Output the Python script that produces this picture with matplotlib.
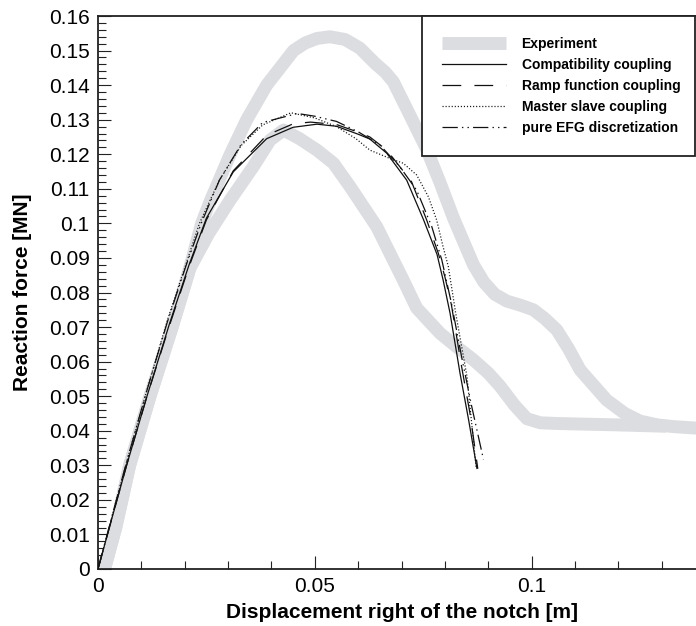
import numpy as np
import matplotlib
matplotlib.use("Agg")
import matplotlib.pyplot as plt

plt.rcParams['font.family'] = ['Liberation Sans', 'DejaVu Sans']
plt.rcParams['lines.scale_dashes'] = False

# experiment, two gray scatter bounds
exp_up_x = [0.0015, 0.0041, 0.0073, 0.0120, 0.0171, 0.0207, 0.0239, 0.0260, 0.0305, 0.0343,
            0.0389, 0.0451, 0.0478, 0.0505, 0.0535, 0.0570, 0.0604, 0.0640, 0.0662, 0.0681,
            0.0719, 0.0757, 0.0788, 0.0820, 0.0866, 0.0890, 0.0915, 0.0943, 0.0975, 0.1004,
            0.1030, 0.1058, 0.1085, 0.1112, 0.1173, 0.1215, 0.1250, 0.1290, 0.1327, 0.1400]
exp_up_y = [0.0, 0.012, 0.030, 0.050, 0.070, 0.085, 0.100, 0.1068, 0.120, 0.130,
            0.140, 0.150, 0.1522, 0.1535, 0.1540, 0.1532, 0.1507, 0.1462, 0.1438, 0.1410,
            0.1314, 0.1217, 0.1121, 0.1015, 0.0880, 0.0830, 0.0795, 0.0775, 0.0763, 0.0750,
            0.0725, 0.0692, 0.0638, 0.0576, 0.0489, 0.0450, 0.0428, 0.0417, 0.0412, 0.0406]

exp_lo_x = [0.0015, 0.0041, 0.0073, 0.0120, 0.0171, 0.0212, 0.0255, 0.0305, 0.0358, 0.0397,
            0.0428, 0.0465, 0.0505, 0.0543, 0.0581, 0.0643, 0.0681, 0.0704, 0.0735, 0.0789,
            0.0830, 0.0866, 0.0900, 0.0928, 0.0960, 0.0989, 0.1020, 0.1058, 0.1196, 0.1310]
exp_lo_y = [0.0, 0.012, 0.030, 0.050, 0.070, 0.087, 0.097, 0.1068, 0.1164, 0.1241,
            0.1270, 0.1245, 0.1212, 0.1174, 0.1107, 0.0990, 0.0894, 0.0836, 0.0755, 0.0682,
            0.0640, 0.0605, 0.0567, 0.0528, 0.0475, 0.0435, 0.0423, 0.0421, 0.0417, 0.0413]

# Compatibility coupling
comp_x = [0, 0.0035, 0.0066, 0.0113, 0.0165, 0.021, 0.025, 0.0312, 0.0389, 0.045, 0.0505,
          0.055, 0.060, 0.0627, 0.0666, 0.0712, 0.0751, 0.0782, 0.0796, 0.0812, 0.0835,
          0.0855, 0.0874]
comp_y = [0, 0.016, 0.030, 0.050, 0.071, 0.088, 0.1015, 0.1149, 0.1245, 0.1278, 0.1287,
          0.1281, 0.1258, 0.1244, 0.1203, 0.1125, 0.1010, 0.0910, 0.0836, 0.0740, 0.0566,
          0.0430, 0.0291]

# Ramp function coupling
ramp_x = [0, 0.0035, 0.0066, 0.0113, 0.0165, 0.021, 0.025, 0.0312, 0.0389, 0.045, 0.049,
          0.055, 0.060, 0.0627, 0.0666, 0.0723, 0.0758, 0.0785, 0.0800, 0.0815, 0.0838,
          0.0858, 0.0876]
ramp_y = [0, 0.016, 0.030, 0.050, 0.0705, 0.0875, 0.101, 0.1152, 0.1255, 0.1288, 0.1293,
          0.1286, 0.1264, 0.1250, 0.1212, 0.1121, 0.1010, 0.0913, 0.0846, 0.0765, 0.0590,
          0.0450, 0.0290]

# Master slave coupling
mast_x = [0, 0.0035, 0.0066, 0.011, 0.016, 0.0205, 0.0234, 0.028, 0.033, 0.038, 0.0445,
          0.050, 0.055, 0.0595, 0.0627, 0.0673, 0.0704, 0.0735, 0.0762, 0.0781, 0.0796,
          0.0808, 0.0825, 0.0851, 0.0872]
mast_y = [0, 0.0165, 0.031, 0.0505, 0.072, 0.089, 0.100, 0.1125, 0.1225, 0.1285, 0.1320,
          0.1305, 0.1280, 0.1245, 0.1212, 0.1188, 0.1174, 0.1140, 0.1077, 0.1010, 0.0932,
          0.0875, 0.0740, 0.0557, 0.0295]

# pure EFG discretization
efg_x = [0, 0.0035, 0.0066, 0.011, 0.016, 0.0205, 0.0238, 0.028, 0.033, 0.038, 0.046,
         0.050, 0.055, 0.060, 0.065, 0.0696, 0.0735, 0.0770, 0.0793, 0.0815, 0.0840,
         0.0862, 0.0889]
efg_y = [0, 0.0165, 0.031, 0.0505, 0.0715, 0.0885, 0.100, 0.1125, 0.1228, 0.1292, 0.1318,
         0.1310, 0.1295, 0.1265, 0.1227, 0.1164, 0.1096, 0.0990, 0.0894, 0.0770, 0.0605,
         0.0470, 0.0317]

x_major = [0, 0.05, 0.1]
x_labels = ['0', '0.05', '0.1']
y_major = [i / 100 for i in range(17)]
y_labels = ['0', '0.01', '0.02', '0.03', '0.04', '0.05', '0.06', '0.07', '0.08', '0.09',
            '0.1', '0.11', '0.12', '0.13', '0.14', '0.15', '0.16']

fig = plt.figure(figsize=(6.96, 6.26), dpi=100)
ax = fig.add_axes([98 / 696, 57 / 626, 607 / 696, 553 / 626])

gray = '#dcdde0'
ink = '#111111'
h_exp, = ax.plot(exp_up_x, exp_up_y, color=gray, lw=9.3, solid_capstyle='butt',
                 solid_joinstyle='round', zorder=2)
ax.plot(exp_lo_x, exp_lo_y, color=gray, lw=9.3, solid_capstyle='butt',
        solid_joinstyle='round', zorder=2)
h_comp, = ax.plot(comp_x, comp_y, color=ink, lw=0.9, zorder=4)
h_ramp, = ax.plot(ramp_x, ramp_y, color=ink, lw=0.9, dashes=(13.5, 9.5), zorder=4)
h_mast, = ax.plot(mast_x, mast_y, color=ink, lw=0.9, dashes=(0.8, 1.4), zorder=4)
h_efg, = ax.plot(efg_x, efg_y, color=ink, lw=0.9, dashes=(11, 3, 1, 3, 1, 3), zorder=4)

ax.set_xlim(0, 0.14)
ax.set_ylim(0, 0.16)
ax.set_xticks(x_major)
ax.set_xticklabels(x_labels)
ax.set_xticks(np.arange(0, 0.1401, 0.01), minor=True)
ax.set_yticks(y_major)
ax.set_yticklabels(y_labels)
ax.set_yticks(np.arange(0, 0.1601, 0.002), minor=True)
ax.tick_params(which='major', direction='in', length=9.4, width=0.8, color='#222222',
               labelsize=15, pad=6)
ax.tick_params(which='minor', direction='in', length=5.8, width=0.8, color='#222222')
for side in ['left', 'bottom', 'top']:
    ax.spines[side].set_linewidth(1.3)
    ax.spines[side].set_color('#222222')
ax.spines['right'].set_visible(False)

ax.set_xlabel('Displacement right of the notch [m]', fontsize=15, fontweight='bold', labelpad=5)
ax.set_ylabel('Reaction force [MN]', fontsize=15, fontweight='bold', labelpad=12)

leg = ax.legend([h_exp, h_comp, h_ramp, h_mast, h_efg],
                ['Experiment', 'Compatibility coupling', 'Ramp function coupling',
                 'Master slave coupling', 'pure EFG discretization'],
                loc='upper left', bbox_to_anchor=(421.5 / 696, 1 - 16 / 626, 273 / 696, 0),
                bbox_transform=fig.transFigure, mode='expand',
                prop={'weight': 'bold', 'size': 10}, fancybox=False, framealpha=1,
                edgecolor='#222222', borderpad=1.5, labelspacing=0.51,
                handlelength=4.6, handletextpad=1.1, borderaxespad=0)
leg.get_frame().set_linewidth(1.3)
leg.set_zorder(10)

fig.savefig('out.png', dpi=100)
